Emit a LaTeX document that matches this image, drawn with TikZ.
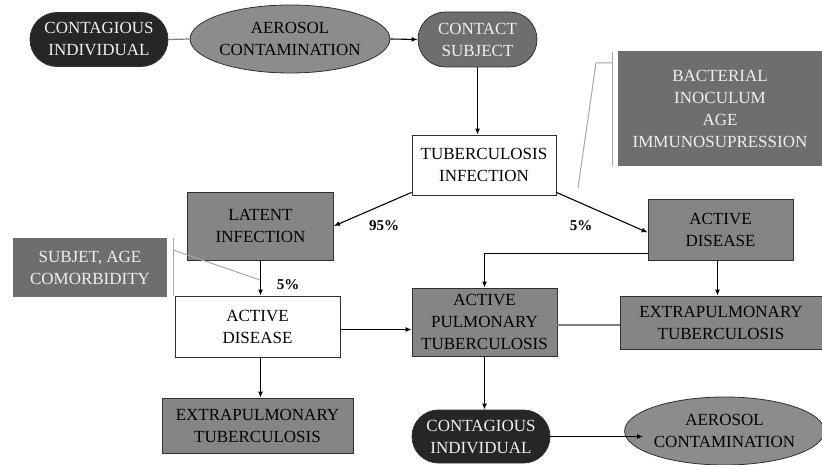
\documentclass[tikz,border=0pt]{standalone}
\usepackage{fontspec}
\setmainfont{Liberation Serif}
\usetikzlibrary{shapes.geometric,shapes.misc,arrows.meta}
\definecolor{darkfill}{HTML}{262626}
\definecolor{dgray}{HTML}{6E6E6E}
\definecolor{mgray}{HTML}{858585}
\definecolor{lgray}{HTML}{8C8C8C}
\definecolor{edge}{HTML}{303030}
\definecolor{thin}{HTML}{A8A8A8}
\definecolor{wtext}{HTML}{F0F0F0}
\tikzset{
  every node/.style={font=\fontsize{17}{22}\selectfont, align=center, inner sep=0pt},
  pill/.style={rounded rectangle, draw=edge, line width=0.8pt},
  blackpill/.style={pill, fill=darkfill, text=wtext},
  graypill/.style={pill, fill=dgray, text=wtext},
  oval/.style={ellipse, draw=edge, line width=0.8pt, fill=lgray, text=black},
  whitebox/.style={rectangle, draw=edge, line width=0.8pt, fill=white, text=black},
  graybox/.style={rectangle, draw=edge, line width=0.8pt, fill=mgray, text=black},
  factorbox/.style={rectangle, fill=dgray, text=wtext},
  arr/.style={-{Latex[length=6pt,width=5pt]}, line width=1.1pt, draw=black},
  plain/.style={line width=1.2pt, draw=gray},
  brack/.style={line width=1pt, draw=thin},
  pct/.style={font=\fontsize{15}{18}\selectfont\bfseries}
}
\begin{document}
\begin{tikzpicture}[x=1pt,y=-1pt]
\useasboundingbox (0,0) rectangle (822,465);
% nodes
\node[blackpill, minimum width=138, minimum height=54] (ci1) at (99,39.5) {CONTAGIOUS\\INDIVIDUAL};
\node[oval, minimum width=166, minimum height=68] (ae1) at (290,39) {AEROSOL\\CONTAMINATION};
\node[graypill, minimum width=119, minimum height=55] (cs) at (477.5,39.5) {CONTACT\\SUBJECT};
\node[whitebox, minimum width=144, minimum height=60] (tb) at (484,165) {TUBERCULOSIS\\INFECTION};
\node[factorbox, minimum width=204, minimum height=115] (bac) at (720,108.5) {BACTERIAL\\INOCULUM\\AGE\\IMMUNOSUPRESSION};
\node[graybox, minimum width=146, minimum height=68] (lat) at (260.5,226) {LATENT\\INFECTION};
\node[graybox, minimum width=145, minimum height=61] (adR) at (720.5,229.5) {ACTIVE\\DISEASE};
\node[factorbox, minimum width=154, minimum height=59] (subj) at (90,267.5) {SUBJET, AGE\\COMORBIDITY};
\node[whitebox, minimum width=165, minimum height=61] (adL) at (257.5,326.5) {ACTIVE\\DISEASE};
\node[graybox, minimum width=191, minimum height=55] (exL) at (257.5,425.5) {EXTRAPULMONARY\\TUBERCULOSIS};
\node[graybox, minimum width=145, minimum height=68] (apt) at (484.5,322) {ACTIVE\\PULMONARY\\TUBERCULOSIS};
\node[graybox, minimum width=202, minimum height=53] (exR) at (721,322.5) {EXTRAPULMONARY\\TUBERCULOSIS};
\node[blackpill, minimum width=138, minimum height=53] (ci2) at (481,436.5) {CONTAGIOUS\\INDIVIDUAL};
\node[oval, minimum width=165, minimum height=68] (ae2) at (724.5,431) {AEROSOL\\CONTAMINATION};
% percentage labels
\node[pct] (p95) at (384,226) {95\%};
\node[pct] (p5a) at (581,226) {5\%};
\node[pct] (p5b) at (288,285) {5\%};
% bracket coordinates
\coordinate (b1t) at (612,52);
\coordinate (b1b) at (612,166);
\coordinate (b1h) at (612,63);
\coordinate (b1k) at (596,63);
\coordinate (b1e) at (578,188);
\coordinate (b2t) at (173,238);
\coordinate (b2b) at (173,296);
\coordinate (b2s) at (173,250);
\coordinate (b2e) at (260,280);
\coordinate (aeL) at (643,436.5);
% brackets
\draw[brack] (b1t) -- (b1b);
\draw[brack] (b1h) -- (b1k) -- (b1e);
\draw[brack] (b2t) -- (b2b);
\draw[brack] (b2s) -- (b2e);
% connectors
\draw[plain] (ci1.east) -- (ae1.west);
\draw[arr] (ae1.east) -- (cs.west);
\draw[arr] (cs.south) -- (cs.south |- tb.north);
\draw[arr] ([yshift=3]tb.south west) -- (lat.east);
\draw[arr] ([yshift=3]tb.south east) -- ([yshift=-3]adR.west);
\draw[arr] (lat.south) -- (lat.south |- adL.north);
\draw[arr] (adL.south -| lat.south) -- (lat.south |- exL.north);
\draw[arr] ([yshift=-3]adL.east) -- ([yshift=-3]adL.east -| apt.west);
\draw[arr] ([yshift=-24]adR.west) -| (apt.north);
\draw[arr] ([xshift=-3]adR.south) -- ([xshift=-3]adR.south |- exR.north);
\draw[plain] ([yshift=-3]apt.east) -- ([yshift=-3]apt.east -| exR.west);
\draw[arr] (apt.south) -- (apt.south |- ci2.north);
\draw[arr] (ci2.east) -- (aeL);
\end{tikzpicture}
\end{document}
